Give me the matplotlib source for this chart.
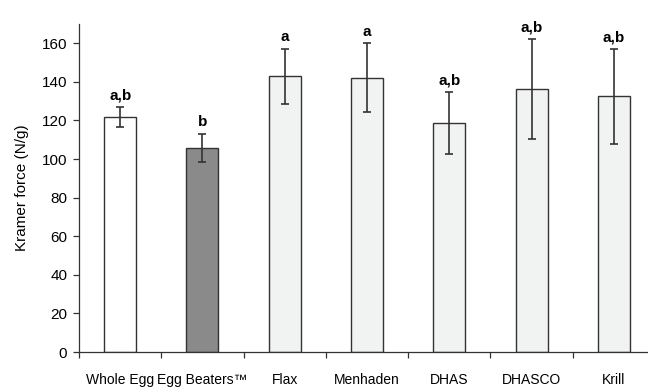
#!/usr/bin/env python
# plot.py - Kramer shear force by egg/oil treatment
import matplotlib
matplotlib.use("Agg")
from matplotlib import pyplot as plt
import numpy as np

plt.rcParams['font.family'] = ['Liberation Sans', 'DejaVu Sans']

# Treatments and measured values
treatments = ['Whole Egg', 'Egg Beaters\u2122', 'Flax', 'Menhaden', 'DHAS', 'DHASCO', 'Krill']
force = [121.7, 105.9, 142.8, 142.1, 118.8, 136.2, 132.6]
sd = [5.3, 7.2, 14.5, 17.8, 16.0, 26.0, 24.6]
groups = ['a,b', 'b', 'a', 'a', 'a,b', 'a,b', 'a,b']
fills = ['#ffffff', '#8a8a8a', '#f1f2f2', '#f1f2f2', '#f1f2f2', '#f1f2f2', '#f1f2f2']

fig = plt.figure(figsize=(6.48, 3.87), dpi=100)
# axes runs off the right edge on purpose, like the original figure
ax = fig.add_axes([79 / 648, 35 / 387, 576 / 648, 328 / 387])

x = np.arange(len(treatments))
ax.bar(x, force, width=0.39, color=fills, edgecolor='#333333', linewidth=1.0, zorder=2)
ax.errorbar(x, force, yerr=sd, fmt='none', ecolor='#333333', elinewidth=1.2,
            capsize=3, capthick=1.2, zorder=3)

# significance letters above each error bar
for xi, f, s, g in zip(x, force, sd, groups):
    ax.annotate(g, (xi, f + s), xytext=(0, 5.5), textcoords='offset points',
                ha='center', va='baseline', fontsize=11, fontweight='bold')

ax.set_xlim(-0.5, len(treatments) - 0.5)
ax.set_ylim(0, 170)
ax.set_yticks(np.arange(0, 161, 20))
ax.set_xticks(x)
ax.set_xticklabels(treatments)
ax.set_xticks(np.arange(-0.5, len(treatments), 1.0), minor=True)
ax.tick_params(axis='x', which='major', length=0, pad=15, labelsize=10)
ax.tick_params(axis='x', which='minor', length=4.5, width=0.9, color='#333333')
ax.tick_params(axis='y', length=4.5, width=0.9, color='#333333', labelsize=11, pad=4)

for side in ['top', 'right']:
    ax.spines[side].set_visible(False)
for side in ['left', 'bottom']:
    ax.spines[side].set_color('#333333')
    ax.spines[side].set_linewidth(0.9)

ax.set_ylabel('Kramer force (N/g)', fontsize=11, labelpad=9)

plt.savefig("out.png", dpi=100)
